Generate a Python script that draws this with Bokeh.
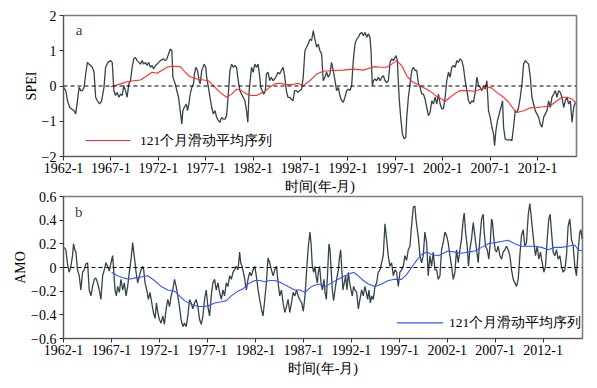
from bokeh.plotting import figure
from bokeh.layouts import column
from bokeh.models import FixedTicker, Span, Label, Legend, LegendItem, BoxAnnotation
from bokeh.embed import file_html
from bokeh.resources import INLINE

# ---------------- data ----------------
tick_years = [1962, 1967, 1972, 1977, 1982, 1987, 1992, 1997, 2002, 2007, 2012]
tick_labels = ["1962-1", "1967-1", "1972-1", "1977-1", "1982-1", "1987-1",
               "1992-1", "1997-1", "2002-1", "2007-1", "2012-1"]
spei_ticks = [-2, -1, 0, 1, 2]
spei_tick_labels = ["\u22122", "\u22121", "0", "1", "2"]
amo_ticks = [-0.6, -0.4, -0.2, 0, 0.2, 0.4, 0.6]
amo_tick_labels = ["\u22120.6", "\u22120.4", "\u22120.2", "0", "0.2", "0.4", "0.6"]

spei_year = [
    1962.00, 1962.24, 1962.42, 1962.66, 1962.87, 1963.12, 1963.29, 1963.47, 1963.64, 1963.82,
    1963.99, 1964.17, 1964.34, 1964.52, 1964.69, 1964.87, 1965.04, 1965.22, 1965.39, 1965.57,
    1965.81, 1966.02, 1966.27, 1966.44, 1966.69, 1966.97, 1967.14, 1967.31, 1967.49, 1967.66,
    1967.84, 1968.01, 1968.19, 1968.36, 1968.54, 1968.71, 1968.89, 1969.06, 1969.24, 1969.41,
    1969.59, 1969.76, 1969.94, 1970.11, 1970.29, 1970.46, 1970.64, 1970.81, 1970.99, 1971.16,
    1971.34, 1971.51, 1971.69, 1971.86, 1972.03, 1972.21, 1972.56, 1972.73, 1972.91, 1973.08,
    1973.26, 1973.43, 1973.54, 1973.78, 1974.13, 1974.31, 1974.48, 1974.59, 1974.73, 1974.94,
    1975.08, 1975.22, 1975.36, 1975.53, 1975.71, 1975.81, 1975.95, 1976.13, 1976.30, 1976.41,
    1976.58, 1976.83, 1977.00, 1977.10, 1977.28, 1977.45, 1977.63, 1977.80, 1977.98, 1978.15,
    1978.33, 1978.50, 1978.68, 1978.85, 1979.03, 1979.20, 1979.38, 1979.55, 1979.73, 1979.90,
    1980.08, 1980.25, 1980.43, 1980.60, 1980.78, 1980.95, 1981.13, 1981.30, 1981.44, 1981.58,
    1981.72, 1981.83, 1982.00, 1982.17, 1982.35, 1982.52, 1982.70, 1982.80, 1982.94, 1983.12,
    1983.29, 1983.40, 1983.57, 1983.75, 1983.92, 1984.10, 1984.27, 1984.45, 1984.62, 1984.80,
    1984.97, 1985.15, 1985.32, 1985.50, 1985.67, 1985.85, 1986.02, 1986.20, 1986.37, 1986.55,
    1986.72,
    1986.93, 1987.11, 1987.28, 1987.46, 1987.63, 1987.81, 1987.99, 1988.16, 1988.34, 1988.51,
    1988.69, 1988.87, 1989.04, 1989.22, 1989.39, 1989.57, 1989.75, 1989.92, 1990.10, 1990.27,
    1990.45, 1990.63, 1990.80, 1990.98, 1991.15, 1991.33, 1991.51, 1991.68, 1991.86, 1992.04,
    1992.21, 1992.39, 1992.56, 1992.74, 1992.92, 1993.09, 1993.27, 1993.44, 1993.62, 1993.80,
    1993.97, 1994.15, 1994.32, 1994.43, 1994.57, 1994.68, 1994.85, 1995.03, 1995.20, 1995.38,
    1995.56, 1995.73, 1995.91, 1996.08, 1996.26, 1996.44, 1996.61, 1996.79, 1996.96, 1997.07,
    1997.21, 1997.32, 1997.42, 1997.56, 1997.74, 1997.92, 1998.09, 1998.20, 1998.37, 1998.55,
    1998.73, 1998.90, 1999.08, 1999.25, 1999.43, 1999.61, 1999.78, 1999.96, 2000.13, 2000.31,
    2000.49, 2000.66, 2000.84, 2001.01, 2001.19, 2001.37, 2001.54, 2001.72, 2001.89, 2002.07,
    2002.25, 2002.42, 2002.60, 2002.77, 2002.95, 2003.13, 2003.30, 2003.48, 2003.65, 2003.83,
    2004.01, 2004.18, 2004.36, 2004.54, 2004.71, 2004.89, 2005.06, 2005.24, 2005.42, 2005.59,
    2005.77, 2005.94, 2006.12, 2006.30, 2006.47, 2006.65, 2006.82, 2007.00, 2007.18, 2007.35,
    2007.46, 2007.60, 2007.77, 2007.95, 2008.13, 2008.30, 2008.41, 2008.58, 2008.76, 2008.94,
    2009.11, 2009.29, 2009.46, 2009.64, 2009.82, 2009.99, 2010.17, 2010.35, 2010.52, 2010.70,
    2010.87, 2011.05, 2011.23, 2011.40, 2011.58, 2011.75, 2011.93, 2012.11, 2012.28, 2012.46,
    2012.63, 2012.81, 2012.99, 2013.16, 2013.34, 2013.51, 2013.69, 2013.87, 2014.04, 2014.22,
    2014.39, 2014.57, 2014.75, 2014.92, 2015.10, 2015.27, 2015.45, 2015.63, 2015.80, 2015.98,
]
spei_value = [
    -0.04, -0.13, -0.42, -0.61, -0.65, -0.70, -0.79, -0.42, -0.04, -0.13,
    -0.13, -0.04, 0.34, 0.67, 0.62, 0.58, 0.53, 0.39, -0.32, -0.42,
    -0.51, -0.42, -0.04, 0.53, 0.67, 0.72, 0.67, -0.13, -0.27, -0.18,
    -0.32, -0.23, -0.27, 0.01, -0.13, -0.32, 0.06, 0.15, 0.53, 0.77,
    0.81, 0.72, 0.67, 0.62, 0.72, 0.62, 0.67, 0.58, 0.67, 0.53,
    0.58, 0.48, 0.58, 0.62, 0.67, 0.72, 0.77, 0.72, 0.77, 0.91,
    1.05, 1.00, 0.25, 0.06, -0.32, -0.70, -1.08, -0.70, -0.61, -0.51,
    -0.70, -0.51, -0.23, -0.04, 0.06, 0.34, 0.53, 0.44, 0.15, 0.06,
    0.44, 0.62, 0.53, 0.25, -0.04, -0.32, -0.61, -0.79, -0.70, -0.89,
    -0.98, -1.03, -0.89, -0.94, -0.94, -0.84, -0.23, 0.44, 0.62, 0.53,
    0.58, 0.53, 0.15, -0.13, -0.23, -0.32, -0.42, -0.70, -1.03, -0.13,
    0.25, 0.53, 0.39, 0.62, 0.53, 0.62, 0.25, -0.04, -0.13, -0.23,
    -0.13, 0.34, 0.39, 0.15, 0.25, 0.15, 0.20, 0.29, 0.39, 0.34,
    0.44, 0.53, 0.29, -0.13, -0.32, -0.32, -0.37, -0.42, -0.13, -0.13,
    -0.18,
    -0.13, -0.09, 0.25, 1.00, 1.10, 1.19, 1.33, 1.29, 1.57, 1.33,
    1.10, 1.19, 1.00, 0.91, 0.15, 0.25, 0.39, 0.25, 0.34, 0.67,
    0.44, 0.15, -0.13, -0.04, -0.27, -0.42, -0.46, -0.32, -0.13, -0.09,
    -0.13, 0.01, 0.72, 1.19, 1.33, 1.38, 1.48, 1.52, 1.43, 1.52,
    1.38, 1.48, 1.38, 1.00, 0.01, 0.15, 0.20, 0.15, 0.25, 0.15,
    0.25, 0.29, 0.15, 0.10, 0.15, 0.67, 0.77, 0.72, 0.81, 0.86,
    0.72, 0.06, -0.42, -0.89, -1.36, -1.50, -1.46, -0.89, -0.32, 0.06,
    0.44, 0.53, 0.44, 0.44, 0.06, -0.04, -0.23, -0.23, -0.37, -0.61,
    -0.84, -0.75, -0.42, -0.51, -0.32, -0.51, -0.23, -0.51, -0.65, -0.65,
    -0.32, 0.15, 0.39, 0.25, 0.53, 0.58, 0.53, 0.72, 0.67, 0.77,
    0.72, 0.53, 0.15, -0.13, -0.42, -0.51, -0.42, -0.46, -0.18, 0.25,
    0.01, -0.04, -0.13, 0.01, -0.09, 0.15, -0.70, -0.89, -1.17, -1.36,
    -1.69, -1.27, -0.98, -0.79, -0.61, -0.42, -1.17, -1.50, -1.53, -1.53,
    -1.53, -1.55, -1.17, -0.70, -0.75, -0.61, -0.32, 0.06, 0.62, 0.72,
    0.67, 0.62, 0.25, -0.32, -0.51, -0.70, -0.79, -0.89, -1.08, -1.17,
    -0.89, -0.79, -0.70, -0.42, -0.61, -0.32, -0.23, -0.13, -0.32, -0.13,
    -0.18, -0.32, -0.61, -0.42, -0.32, -0.51, -0.42, -1.03, -0.61, -0.46,
]

spei_ma_year = [
    1966.97, 1968.01, 1968.71, 1969.41, 1970.11, 1970.81, 1971.34, 1971.86, 1972.21, 1972.91,
    1973.43, 1974.31, 1974.83, 1975.36, 1976.06, 1976.76, 1977.28, 1977.80, 1978.50, 1979.20,
    1979.73, 1980.25, 1980.78, 1981.30, 1981.83, 1982.35, 1983.05, 1983.75, 1984.27, 1984.80,
    1985.50, 1986.20, 1986.72, 1987.28, 1987.99, 1988.69, 1989.39, 1990.45, 1991.51, 1992.56,
    1993.62, 1994.32, 1994.85, 1995.38, 1996.08, 1996.61, 1997.14, 1997.67, 1998.20, 1998.73,
    1999.25, 1999.78, 2000.31, 2000.84, 2001.37, 2001.89, 2002.25, 2002.77, 2003.30, 2003.83,
    2004.54, 2005.42, 2005.94, 2006.65, 2007.18, 2007.70, 2008.41, 2008.94, 2009.46, 2009.82,
    2010.52, 2011.23, 2011.93, 2012.63, 2013.34, 2014.04, 2014.57, 2015.10, 2015.63, 2015.98,
]
spei_ma_value = [
    -0.02, 0.06, 0.12, 0.15, 0.17, 0.29, 0.39, 0.36, 0.42, 0.53,
    0.56, 0.55, 0.39, 0.26, 0.20, 0.17, 0.15, 0.01, -0.18, -0.32,
    -0.23, -0.09, -0.13, -0.23, -0.27, -0.27, -0.18, -0.04, 0.06, 0.08,
    0.04, 0.04, 0.08, 0.01, 0.15, 0.34, 0.42, 0.44, 0.45, 0.48,
    0.45, 0.51, 0.55, 0.53, 0.53, 0.62, 0.72, 0.58, 0.29, 0.13,
    0.06, -0.02, -0.09, -0.18, -0.30, -0.37, -0.44, -0.32, -0.21, -0.13,
    -0.13, -0.15, -0.09, -0.02, -0.06, -0.18, -0.32, -0.46, -0.65, -0.75,
    -0.70, -0.62, -0.61, -0.59, -0.56, -0.42, -0.32, -0.32, -0.37, -0.46,
]

amo_year = [
    1962.07, 1962.24, 1962.42, 1962.59, 1962.77, 1962.94, 1963.05, 1963.18, 1963.29, 1963.46,
    1963.64, 1963.81, 1963.99, 1964.16, 1964.33, 1964.51, 1964.68, 1964.86, 1965.03, 1965.21,
    1965.38, 1965.55, 1965.73, 1965.90, 1966.08, 1966.25, 1966.43, 1966.60, 1966.77, 1966.95,
    1967.12, 1967.23, 1967.37, 1967.51, 1967.64, 1967.82, 1967.99, 1968.17, 1968.34, 1968.52,
    1968.69, 1968.86, 1969.04, 1969.21, 1969.32, 1969.46, 1969.56, 1969.74, 1969.91, 1970.08,
    1970.26, 1970.36, 1970.50, 1970.68, 1970.85, 1971.02, 1971.20, 1971.37, 1971.55, 1971.69,
    1971.83, 1972.00, 1972.17, 1972.35, 1972.52, 1972.70, 1972.87, 1973.05, 1973.22, 1973.39,
    1973.57, 1973.74, 1973.92, 1974.09, 1974.26, 1974.44, 1974.61, 1974.79, 1974.96, 1975.14,
    1975.31, 1975.48, 1975.66, 1975.83, 1976.01, 1976.18, 1976.36, 1976.53, 1976.70, 1976.88,
    1977.05, 1977.23, 1977.40, 1977.57, 1977.75, 1977.92, 1978.10, 1978.27, 1978.45, 1978.62,
    1978.79, 1978.97, 1979.14, 1979.32, 1979.49, 1979.67, 1979.84, 1980.01, 1980.19, 1980.36,
    1980.47, 1980.61, 1980.75, 1980.89, 1981.06, 1981.23, 1981.41, 1981.58, 1981.76, 1981.93,
    1982.10, 1982.28, 1982.45, 1982.63, 1982.80, 1982.98, 1983.15, 1983.32, 1983.50, 1983.67,
    1983.85, 1984.02, 1984.20, 1984.37, 1984.54, 1984.72, 1984.89, 1985.07, 1985.24, 1985.41,
    1985.59, 1985.76, 1985.94, 1986.11, 1986.29, 1986.46, 1986.63,
    1986.83, 1987.00, 1987.17, 1987.35, 1987.52, 1987.69, 1987.80, 1987.94, 1988.08, 1988.22,
    1988.32, 1988.46, 1988.56, 1988.70, 1988.84, 1988.98, 1989.15, 1989.26, 1989.40, 1989.53,
    1989.67, 1989.78, 1989.88, 1990.02, 1990.16, 1990.30, 1990.47, 1990.65, 1990.75, 1990.89,
    1990.99, 1991.13, 1991.27, 1991.41, 1991.55, 1991.69, 1991.83, 1991.97, 1992.10, 1992.24,
    1992.38, 1992.56, 1992.73, 1992.90, 1993.08, 1993.25, 1993.42, 1993.56, 1993.70, 1993.84,
    1993.98, 1994.12, 1994.29, 1994.47, 1994.64, 1994.81, 1994.99, 1995.16, 1995.33, 1995.51,
    1995.68, 1995.85, 1996.03, 1996.20, 1996.38, 1996.55, 1996.72, 1996.90, 1997.07, 1997.24,
    1997.42, 1997.59, 1997.76, 1997.94, 1998.11, 1998.28, 1998.46, 1998.63, 1998.74, 1998.88,
    1999.01, 1999.15, 1999.33, 1999.50, 1999.67, 1999.85, 2000.02, 2000.19, 2000.37, 2000.54,
    2000.72, 2000.89, 2001.06, 2001.24, 2001.41, 2001.58, 2001.76, 2001.93, 2002.10, 2002.28,
    2002.45, 2002.63, 2002.80, 2002.97, 2003.15, 2003.32, 2003.49, 2003.67, 2003.77, 2003.91,
    2004.08, 2004.22, 2004.36, 2004.53, 2004.71, 2004.88, 2005.06, 2005.23, 2005.40, 2005.58,
    2005.75, 2005.85, 2005.99, 2006.17, 2006.34, 2006.51, 2006.62, 2006.72, 2006.86, 2007.00,
    2007.14, 2007.31, 2007.49, 2007.66, 2007.83, 2008.01, 2008.18, 2008.35, 2008.53, 2008.70,
    2008.88, 2009.05, 2009.22, 2009.40, 2009.57, 2009.74, 2009.92, 2010.09, 2010.26, 2010.44,
    2010.61, 2010.72, 2010.85, 2011.03, 2011.20, 2011.38, 2011.55, 2011.72, 2011.90, 2012.07,
    2012.24, 2012.42, 2012.59, 2012.73, 2012.87, 2013.04, 2013.22, 2013.39, 2013.56, 2013.74,
    2013.91, 2014.08, 2014.26, 2014.43, 2014.60, 2014.78, 2014.95, 2015.13, 2015.30, 2015.47,
    2015.65, 2015.82, 2015.92, 2016.06,
]
amo_value = [
    0.17, 0.15, 0.03, -0.04, 0.01, 0.10, 0.20, 0.15, 0.13, -0.02,
    -0.07, -0.19, -0.04, -0.02, 0.03, 0.04, -0.19, -0.24, -0.16, -0.10,
    -0.09, -0.13, -0.19, -0.27, -0.07, -0.02, 0.04, 0.01, -0.03, 0.04,
    0.10, -0.02, -0.19, -0.24, -0.16, -0.21, -0.10, -0.19, -0.13, -0.24,
    -0.16, -0.04, 0.07, 0.21, 0.13, 0.04, -0.04, -0.13, -0.07, -0.02,
    0.01, -0.02, -0.13, -0.19, -0.27, -0.21, -0.30, -0.38, -0.43, -0.30,
    -0.38, -0.44, -0.47, -0.41, -0.48, -0.35, -0.27, -0.33, -0.24, -0.19,
    -0.10, -0.16, -0.24, -0.33, -0.44, -0.50, -0.47, -0.50, -0.41, -0.27,
    -0.30, -0.35, -0.30, -0.27, -0.33, -0.44, -0.48, -0.41, -0.27, -0.19,
    -0.33, -0.41, -0.24, -0.13, -0.10, -0.19, -0.13, -0.21, -0.27, -0.19,
    -0.24, -0.13, -0.16, -0.07, -0.10, -0.04, -0.02, 0.01, -0.02, 0.13,
    0.04, 0.01, -0.04, -0.10, -0.19, -0.10, -0.04, -0.07, -0.02, 0.01,
    -0.07, -0.19, -0.27, -0.35, -0.41, -0.27, -0.13, 0.08, 0.04, -0.02,
    -0.07, -0.02, 0.01, -0.13, -0.24, -0.19, -0.30, -0.38, -0.33, -0.27,
    -0.38, -0.30, -0.21, -0.24, -0.19, -0.24, -0.27,
    -0.30, -0.37, -0.24, -0.02, 0.18, 0.30, 0.21, 0.01, -0.04, 0.01,
    -0.07, -0.13, -0.04, 0.01, -0.13, -0.19, -0.10, -0.21, -0.27, -0.04,
    0.20, 0.15, 0.01, -0.19, -0.28, -0.19, -0.10, -0.02, 0.07, 0.15,
    0.01, -0.19, -0.13, -0.07, -0.19, -0.04, -0.13, -0.19, -0.24, -0.16,
    -0.19, -0.21, -0.35, -0.27, -0.19, -0.24, -0.16, -0.21, -0.27, -0.19,
    -0.30, -0.24, -0.27, -0.16, -0.13, -0.04, -0.02, 0.04, 0.10, 0.37,
    0.24, 0.10, 0.01, 0.04, -0.07, -0.02, -0.04, -0.16, -0.04, -0.02,
    0.01, 0.10, 0.06, 0.15, 0.18, 0.35, 0.51, 0.52, 0.41, 0.32,
    0.24, 0.10, 0.04, 0.10, 0.30, 0.21, -0.07, 0.10, 0.01, 0.13,
    -0.02, -0.02, -0.10, -0.07, 0.15, 0.21, 0.30, 0.27, 0.21, 0.10,
    0.01, -0.10, -0.04, 0.15, 0.04, 0.15, 0.24, 0.41, 0.46, 0.30,
    0.18, 0.01, 0.15, 0.24, 0.38, 0.27, 0.15, 0.04, 0.24, 0.41,
    0.45, 0.30, 0.18, 0.15, 0.07, 0.24, 0.41, 0.38, 0.24, 0.15,
    0.13, 0.18, 0.10, 0.07, 0.13, 0.15, 0.18, 0.15, 0.10, -0.02,
    -0.10, -0.13, -0.16, -0.10, 0.10, 0.27, 0.32, 0.18, 0.21, 0.44,
    0.54, 0.46, 0.35, 0.21, 0.10, 0.18, 0.07, 0.13, 0.04, -0.04,
    0.01, 0.24, 0.41, 0.45, 0.30, 0.13, 0.10, 0.15, 0.07, 0.10,
    0.01, -0.04, -0.02, 0.10, 0.35, 0.41, 0.24, 0.18, 0.01, -0.07,
    0.15, 0.30, 0.32, 0.24,
]

amo_ma_year = [
    1967.02, 1967.64, 1968.34, 1968.86, 1969.39, 1970.08, 1970.78, 1971.48, 1972.17, 1972.87,
    1973.57, 1974.09, 1974.61, 1975.31, 1976.01, 1976.70, 1977.23, 1977.75, 1978.45, 1978.97,
    1979.49, 1980.19, 1980.71, 1981.23, 1981.93, 1982.45, 1982.98, 1983.50, 1984.02, 1984.72,
    1985.41, 1986.11, 1986.63, 1987.17, 1987.87, 1988.56, 1989.26, 1989.95, 1990.65, 1991.34,
    1992.21, 1992.73, 1993.25, 1993.77, 1994.47, 1995.16, 1995.85, 1996.55, 1997.24, 1997.76,
    1998.28, 1998.81, 1999.33, 1999.85, 2000.37, 2001.06, 2001.58, 2002.10, 2002.80, 2003.49,
    2004.19, 2004.88, 2005.58, 2006.27, 2006.97, 2007.66, 2008.35, 2009.05, 2009.74, 2010.44,
    2011.13, 2011.83, 2012.52, 2013.22, 2013.91, 2014.60, 2015.30, 2015.65, 2016.06,
]
amo_ma_value = [
    -0.04, -0.07, -0.09, -0.10, -0.09, -0.08, -0.07, -0.11, -0.16, -0.19,
    -0.20, -0.24, -0.28, -0.31, -0.33, -0.33, -0.32, -0.30, -0.29, -0.28,
    -0.24, -0.20, -0.18, -0.14, -0.11, -0.11, -0.12, -0.11, -0.11, -0.13,
    -0.16, -0.19, -0.19, -0.21, -0.16, -0.14, -0.16, -0.13, -0.10, -0.07,
    -0.04, -0.07, -0.11, -0.14, -0.16, -0.14, -0.11, -0.10, -0.10, -0.06,
    0.00, 0.06, 0.11, 0.13, 0.11, 0.10, 0.12, 0.14, 0.13, 0.12,
    0.13, 0.14, 0.17, 0.20, 0.21, 0.22, 0.23, 0.20, 0.18, 0.18,
    0.18, 0.17, 0.15, 0.17, 0.17, 0.18, 0.19, 0.15, 0.14,
]

x_start, x_end = 1962.0, 2016.1
ma_label = "121个月滑动平均序列"
x_title = "时间(年-月)"

# legend key bars (left, right, bottom, top) in each panel's data units
key_a = (1964.32, 1969.07, -1.563, -1.529)
key_b = (1996.76, 2001.56, -0.4725, -0.4625)

# ---------------- styling ----------------
FONT = "Liberation Serif"
SERIES_COLOR = "#34444b"
FRAME_COLOR = "#7d7d7d"
RED = "#ff2a2a"
BLUE = "#3355ff"


def pair(a, b):
    n = min(len(a), len(b))
    return list(a[:n]), list(b[:n])


def make_panel(frame_w, frame_h, y_range, y_ticks, y_tick_labels, y_title,
               min_top):
    p = figure(frame_width=frame_w, frame_height=frame_h,
               x_range=(x_start, x_end), y_range=y_range,
               output_backend="svg", toolbar_location=None,
               min_border_left=63, min_border_right=6,
               min_border_top=min_top, min_border_bottom=10,
               background_fill_color="white", border_fill_alpha=0)
    p.grid.visible = False
    p.outline_line_color = FRAME_COLOR
    p.outline_line_width = 1.6
    for ax in (p.xaxis[0], p.yaxis[0]):
        ax.axis_line_color = "#555555"
        ax.major_tick_line_color = "#333333"
        ax.major_tick_out = 4
        ax.major_tick_in = 0
        ax.minor_tick_out = 0
        ax.minor_tick_in = 0
        ax.major_label_text_font = FONT
        ax.major_label_text_font_size = "14px"
        ax.major_label_text_color = "black"
        ax.axis_label_text_font = FONT
        ax.axis_label_text_font_style = "normal"
        ax.axis_label_text_color = "black"
    p.xaxis[0].ticker = FixedTicker(ticks=tick_years)
    p.xaxis[0].major_label_overrides = {t: l for t, l in zip(tick_years, tick_labels)}
    p.xaxis[0].major_label_standoff = 2
    p.xaxis[0].axis_label = x_title
    p.xaxis[0].axis_label_text_font_size = "14px"
    p.xaxis[0].axis_label_standoff = 3
    p.yaxis[0].ticker = FixedTicker(ticks=y_ticks)
    p.yaxis[0].major_label_overrides = {t: l for t, l in zip(y_ticks, y_tick_labels)}
    p.yaxis[0].major_label_standoff = 3
    p.yaxis[0].axis_label = y_title
    p.yaxis[0].axis_label_text_font_size = "14px"
    p.yaxis[0].axis_label_standoff = 0
    p.add_layout(Span(location=0, dimension="width", line_color="black",
                      line_dash="4 3", line_width=1.2))
    return p


def add_legend(p, color, loc, key):
    # empty renderer gives the legend entry; the key bar is drawn as a box
    holder = p.quad(left=[], right=[], top=[], bottom=[], fill_color=color,
                    line_color=None)
    lg = Legend(items=[LegendItem(label=ma_label, renderers=[holder])],
                location=loc, glyph_width=56, glyph_height=2,
                label_standoff=5, padding=0, margin=0, spacing=0,
                border_line_alpha=0, background_fill_alpha=0,
                label_text_font=FONT, label_text_font_size="13.5px",
                label_text_color="black", label_height=18)
    p.add_layout(lg)
    left, right, bottom, top = key
    p.add_layout(BoxAnnotation(left=left, right=right, bottom=bottom, top=top,
                               fill_color=color, fill_alpha=1.0,
                               line_color=None, level="overlay"))


# ---------------- panel a ----------------
pa = make_panel(513, 141, (-2, 2), spei_ticks, spei_tick_labels, "SPEI", 15)
sx, sy = pair(spei_year, spei_value)
mx, my = pair(spei_ma_year, spei_ma_value)
pa.line(sx, sy, line_color=SERIES_COLOR, line_width=1.3)
pa.line(mx, my, line_color=RED, line_width=1.1)
add_legend(pa, RED, (16, 6), key_a)
pa.add_layout(Label(x=1963.3, y=1.6, text="a", text_font=FONT,
                    text_font_size="15px", text_baseline="middle"))

# ---------------- panel b ----------------
pb = make_panel(519, 142, (-0.6, 0.6), amo_ticks, amo_tick_labels, "AMO", 8)
pb.margin = (-8, 0, 0, 0)
ax_, ay_ = pair(amo_year, amo_value)
bx, by = pair(amo_ma_year, amo_ma_value)
pb.line(ax_, ay_, line_color=SERIES_COLOR, line_width=1.3)
pb.line(bx, by, line_color=BLUE, line_width=1.1)
add_legend(pb, BLUE, (325, 6), key_b)
pb.add_layout(Label(x=1963.2, y=0.465, text="b", text_font=FONT,
                    text_font_size="15px", text_baseline="middle"))

layout = column(pa, pb, spacing=0)
open("out.html", "w").write(file_html(layout, INLINE))
